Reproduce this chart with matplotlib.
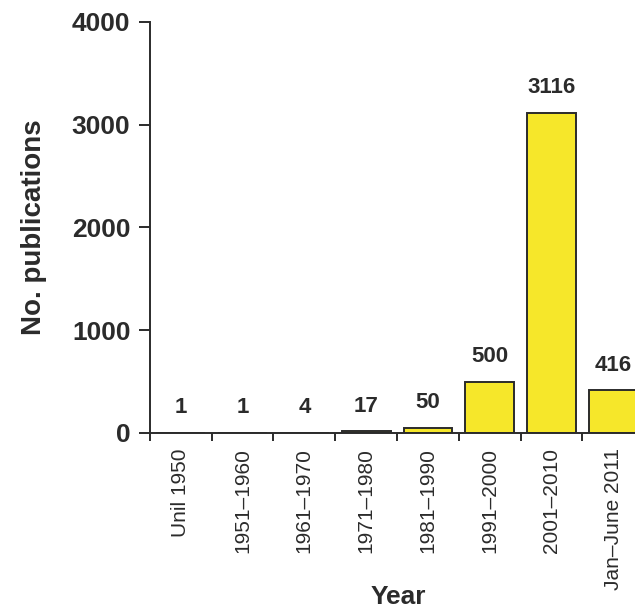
import numpy as np
import matplotlib.pyplot as plt

# data
periods = ["Unil 1950", "1951\u20131960", "1961\u20131970", "1971\u20131980",
           "1981\u20131990", "1991\u20132000", "2001\u20132010", "Jan\u2013June 2011"]
counts = [1, 1, 4, 17, 50, 500, 3116, 416]
yticks = [0, 1000, 2000, 3000, 4000]

plt.rcParams["font.family"] = ["Liberation Sans", "DejaVu Sans"]
ink = "#2b2b2b"

fig = plt.figure(figsize=(6.35, 6.12), dpi=100)
fig.patch.set_facecolor("white")
ax = fig.add_axes([0.236, 0.2925, 0.7786, 0.6716])

x = np.arange(len(periods)) + 0.5
bars = ax.bar(x, counts, width=0.79, color="#f6e72a", edgecolor=ink, linewidth=1.4)

for xi, v in zip(x, counts):
    ax.annotate(str(v), (xi, v), xytext=(0, 18), textcoords="offset points",
                ha="center", va="center", fontsize=16, fontweight="bold", color=ink)

ax.set_xlim(0, len(periods))
ax.set_ylim(0, 4000)
ax.set_yticks(yticks)
ax.set_yticklabels([str(t) for t in yticks], fontsize=19, fontweight="bold", color=ink)

# ticks sit on the category boundaries, labels centred under each bar
ax.set_xticks(np.arange(len(periods)))
ax.set_xticklabels([])
ax.set_xticks(x, minor=True)
ax.set_xticklabels(periods, minor=True, rotation=90, fontsize=15, color=ink)
ax.tick_params(axis="x", which="major", direction="out", length=6, width=1.4, color=ink)
ax.tick_params(axis="x", which="minor", length=0, pad=11)
ax.tick_params(axis="y", direction="out", length=8, width=1.4, color=ink, pad=6)

for side in ["top", "right"]:
    ax.spines[side].set_visible(False)
for side in ["left", "bottom"]:
    ax.spines[side].set_color(ink)
    ax.spines[side].set_linewidth(1.4)
ax.spines["bottom"].set_capstyle("butt")

ax.set_ylabel("No. publications", fontsize=20, fontweight="bold", color=ink, labelpad=18)
fig.text(0.627, 0.024, "Year", ha="center", va="center", fontsize=19,
         fontweight="bold", color=ink)

plt.savefig("out.png", dpi=100, facecolor="white")
